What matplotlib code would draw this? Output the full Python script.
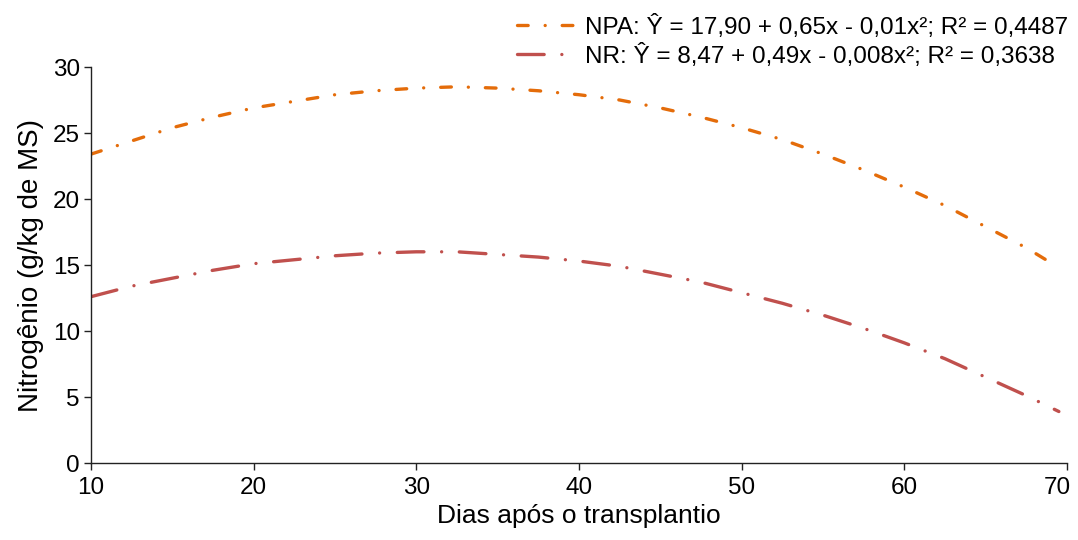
import matplotlib
matplotlib.use("Agg")
import matplotlib.pyplot as plt
import matplotlib.transforms as mtransforms

plt.rcParams['font.family'] = ['Liberation Sans', 'DejaVu Sans']

dias = [10, 12.5, 15, 17.5, 20, 22.5, 25, 27.5, 30, 32.5, 35, 37.5, 40, 42.5,
        45, 47.5, 50, 52.5, 55, 57.5, 60, 62.5, 65, 67.5, 69.5]
npa = [23.4, 24.4, 25.4, 26.2, 26.9, 27.4, 27.9, 28.2, 28.4, 28.5, 28.4, 28.2,
       27.9, 27.5, 26.9, 26.2, 25.4, 24.5, 23.4, 22.2, 20.9, 19.5, 17.9, 16.3, 14.8]
nr = [12.6, 13.4, 14.0, 14.6, 15.1, 15.4, 15.7, 15.9, 16.0, 16.0, 15.8, 15.6,
      15.3, 14.9, 14.3, 13.7, 12.9, 12.1, 11.2, 10.2, 9.1, 7.9, 6.5, 5.1, 3.9]

lbl_npa = "NPA: Ŷ = 17,90 + 0,65x - 0,01x²; R² = 0,4487"
lbl_nr = "NR: Ŷ = 8,47 + 0,49x - 0,008x²; R² = 0,3638"
xticks = [10, 20, 30, 40, 50, 60, 70]
yticks = [0, 5, 10, 15, 20, 25, 30]

fig = plt.figure(figsize=(10.78, 5.40), dpi=100)
ax = fig.add_axes([91/1078, 1-463/540, 976/1078, 396/540])

ax.plot(dias, npa, color='#E46C0A', lw=2.4, dashes=(3.2, 5.1, 0.01, 5.1),
        dash_capstyle='round', solid_capstyle='round', label=lbl_npa)
ax.plot(dias, nr, color='#C0504D', lw=2.4, dashes=(8.0, 5.3, 0.01, 5.3),
        dash_capstyle='round', solid_capstyle='round', label=lbl_nr)

ax.set_xlim(10, 70)
ax.set_ylim(0, 30)
ax.set_xticks(xticks)
ax.set_yticks(yticks)
ax.spines['top'].set_visible(False)
ax.spines['right'].set_visible(False)
for s in ['left', 'bottom']:
    ax.spines[s].set_linewidth(1.0)
    ax.spines[s].set_color('#222222')
ax.tick_params(axis='both', direction='out', length=5, width=1.0,
               labelsize=17.5, colors='#222222', labelcolor='black')
ax.tick_params(axis='x', pad=5)
ax.tick_params(axis='y', pad=3)
ax.set_xlabel("Dias após o transplantio", fontsize=19, labelpad=4)
ax.set_ylabel("Nitrogênio (g/kg de MS)", fontsize=20, labelpad=6)

# keep the last x tick label inside the figure, as in the reference
last = ax.get_xticklabels()[-1]
last.set_transform(last.get_transform() +
                   mtransforms.ScaledTranslation(-10/100, 0, fig.dpi_scale_trans))

leg = fig.legend(loc='upper right', bbox_to_anchor=(1.0, 1 - 5/540), frameon=False,
                 fontsize=17.5, handlelength=2.3, handletextpad=0.5, labelspacing=0.2,
                 borderaxespad=0.0)

fig.savefig("out.png", dpi=100)
